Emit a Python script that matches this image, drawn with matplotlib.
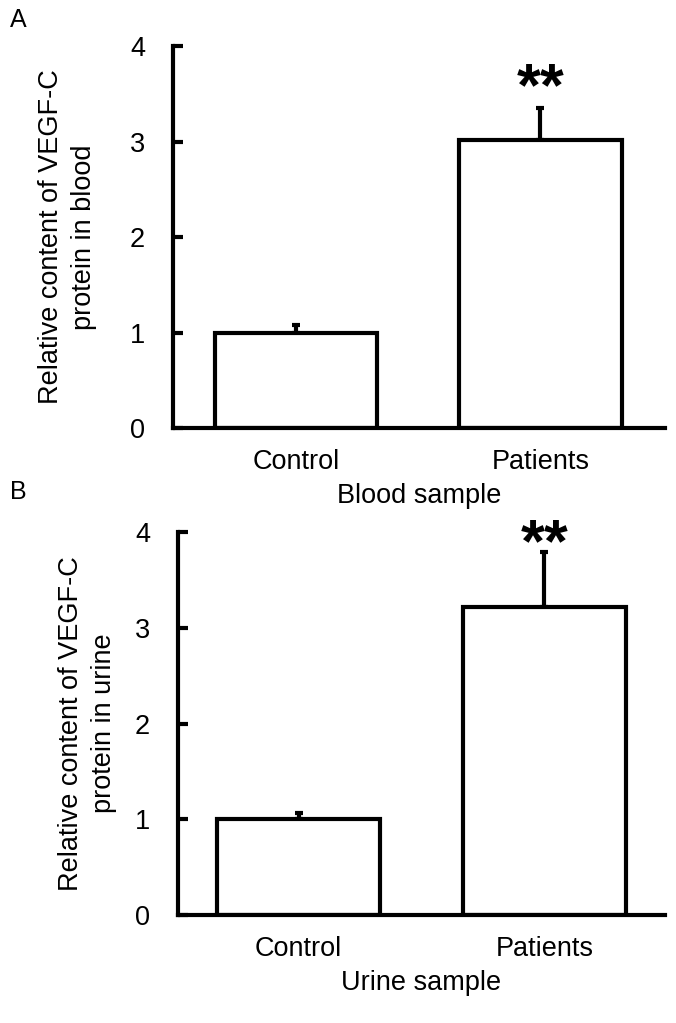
import matplotlib
matplotlib.use("Agg")
import matplotlib.pyplot as plt

plt.rcParams['font.family'] = ['Liberation Sans', 'DejaVu Sans']

categories = ["Control", "Patients"]
blood_values = [1.0, 3.02]
blood_err = [0.08, 0.33]
urine_values = [1.0, 3.22]
urine_err = [0.07, 0.57]
yticks = [0, 1, 2, 3, 4]
sig_labels = ["", "**"]

fig = plt.figure(figsize=(6.76, 10.23), dpi=100)

panels = [
    dict(rect=[173/676, 1-428/1023, (665-173)/676, (428-46)/1023], vals=blood_values, err=blood_err,
         ylabel="Relative content of VEGF-C\nprotein in blood", xlabel="Blood sample", letter="A",
         letter_y=1-20/1023, xlim=(-0.505, 1.51), star_y=3.38, ylabelpad=24),
    dict(rect=[178/676, 1-915/1023, (665-178)/676, (915-532)/1023], vals=urine_values, err=urine_err,
         ylabel="Relative content of VEGF-C\nprotein in urine", xlabel="Urine sample", letter="B",
         letter_y=1-492/1023, xlim=(-0.49, 1.49), star_y=3.69, ylabelpad=13),
]

lw = 3.0
fs = 19.5
for p in panels:
    ax = fig.add_axes(p["rect"])
    x = list(range(len(categories)))
    ax.bar(x, p["vals"], width=0.664, color="white", edgecolor="black", linewidth=lw, zorder=2)
    ax.errorbar(x, p["vals"], yerr=[[0]*len(x), p["err"]], fmt="none", ecolor="black",
                elinewidth=lw, capsize=3, capthick=lw, zorder=1)
    for xi, v, e, s in zip(x, p["vals"], p["err"], sig_labels):
        if s:
            ax.text(xi, p["star_y"], s, ha="center", va="baseline", fontsize=44, fontweight="bold")
    ax.set_ylim(0, 4)
    ax.set_xlim(*p["xlim"])
    ax.set_yticks(yticks)
    ax.set_yticklabels([str(t) for t in yticks], fontsize=fs)
    ax.set_xticks(x)
    ax.set_xticklabels(categories, fontsize=fs)
    ax.tick_params(axis="y", direction="in", length=7, width=lw, pad=20)
    ax.tick_params(axis="x", length=0, pad=15)
    for side in ["top", "right"]:
        ax.spines[side].set_visible(False)
    for side in ["left", "bottom"]:
        ax.spines[side].set_linewidth(lw)
    ax.set_ylabel(p["ylabel"], fontsize=fs, labelpad=p["ylabelpad"], linespacing=1.35)
    ax.set_xlabel(p["xlabel"], fontsize=fs, labelpad=6)
    fig.text(18/676, p["letter_y"], p["letter"], fontsize=18, ha="center", va="center")

fig.savefig("out.png", dpi=100, facecolor="white")
